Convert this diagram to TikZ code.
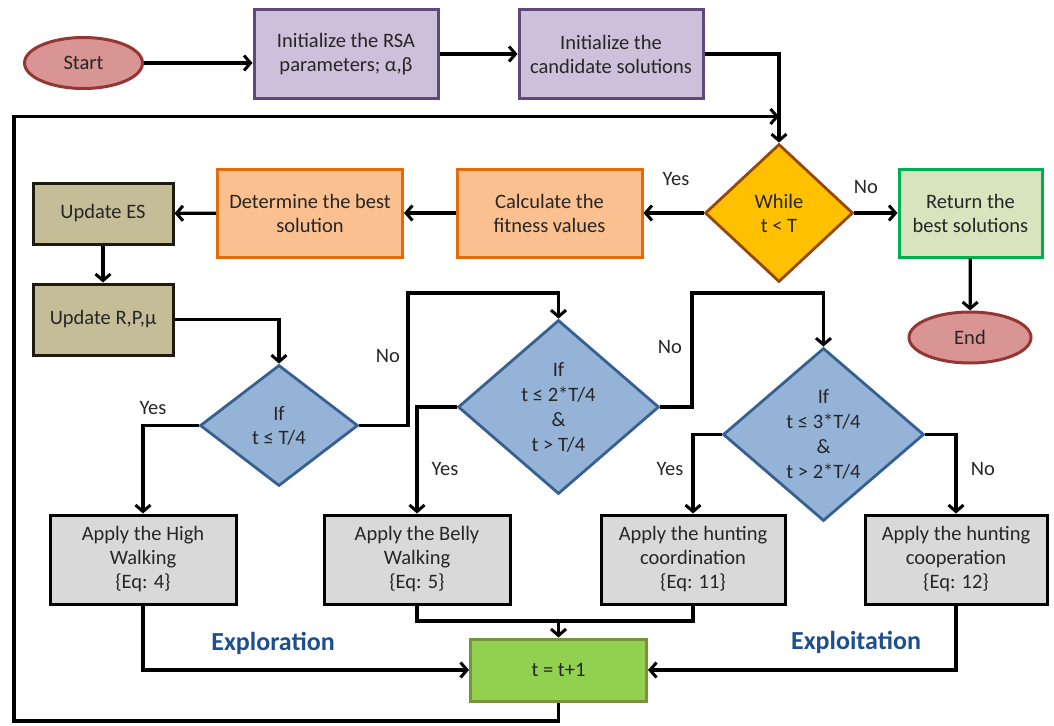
\documentclass[tikz,border=0pt]{standalone}
\usepackage{fontspec}
\setmainfont{Carlito}
\usetikzlibrary{shapes.geometric,arrows.meta}
\definecolor{startfill}{HTML}{D99594}
\definecolor{startdraw}{HTML}{943634}
\definecolor{purfill}{HTML}{CCC0DA}
\definecolor{purdraw}{HTML}{5F497A}
\definecolor{yelfill}{HTML}{FFC000}
\definecolor{yeldraw}{HTML}{974806}
\definecolor{grnfill}{HTML}{D7E4BD}
\definecolor{grndraw}{HTML}{00B050}
\definecolor{orafill}{HTML}{FAC090}
\definecolor{oradraw}{HTML}{E36C09}
\definecolor{olvfill}{HTML}{C4BD97}
\definecolor{olvdraw}{HTML}{1D1B10}
\definecolor{blufill}{HTML}{95B3D7}
\definecolor{bludraw}{HTML}{376092}
\definecolor{gryfill}{HTML}{D9D9D9}
\definecolor{limfill}{HTML}{92D050}
\definecolor{limdraw}{HTML}{77933C}
\definecolor{phase}{HTML}{1F4E8C}
\definecolor{txt}{HTML}{262626}
\begin{document}
\begin{tikzpicture}[x=1pt,y=-1pt,
  every node/.style={font=\fontsize{20.5}{24}\selectfont, text=txt, align=center, inner sep=0pt},
  box/.style={rectangle, line width=3pt, minimum width=#1},
  box/.default=184pt,
  oval/.style={ellipse, line width=3pt, draw=startdraw, fill=startfill, minimum width=118pt, minimum height=51pt},
  dia/.style={diamond, line width=2.8pt, draw=bludraw, fill=blufill},
  conn/.style={line width=3.2pt, -{Straight Barb[length=6.5pt,width=15pt,line width=3pt]}},
  plain/.style={line width=3.2pt},
  lbl/.style={font=\fontsize{20.5}{24}\selectfont},
  phaselbl/.style={font=\fontsize{26}{30}\selectfont\bfseries, text=phase}
]
\useasboundingbox (0,0) rectangle (1054,725);

% nodes
\node[oval] (start) at (83.5,63) {Start};
\node[box, draw=purdraw, fill=purfill, minimum height=88pt] (rsa) at (346,54) {Initialize the RSA\\parameters; α,β};
\node[box, draw=purdraw, fill=purfill, minimum height=88pt] (cand) at (611,54) {Initialize the\\candidate solutions};
\node[diamond, line width=2.8pt, draw=yeldraw, fill=yelfill, minimum width=148pt, minimum height=138pt] (while) at (779,213) {While\\t < T};
\node[box=143pt, draw=grndraw, fill=grnfill, minimum height=88pt] (ret) at (970.5,213) {Return the\\best solutions};
\node[oval, minimum width=122pt] (end) at (970,337.5) {End};
\node[box=185pt, draw=oradraw, fill=orafill, minimum height=88pt] (fit) at (549.5,213) {Calculate the\\fitness values};
\node[box=185pt, draw=oradraw, fill=orafill, minimum height=88pt] (best) at (310,213) {Determine the best\\solution};
\node[box=140pt, draw=olvdraw, fill=olvfill, minimum height=61pt] (es) at (103,213.5) {Update ES};
\node[box=140pt, draw=olvdraw, fill=olvfill, minimum height=71pt] (rpm) at (103,319.5) {Update R,P,μ};
\node[dia, minimum width=158pt, minimum height=121pt] (if1) at (279,425.5) {If\\t ≤ T/4};
\node[dia, minimum width=201pt, minimum height=174pt, font=\fontsize{20.5}{25}\selectfont] (if2) at (558.5,407) {If\\t ≤ 2*T/4\\\&\\t > T/4};
\node[dia, minimum width=201pt, minimum height=173pt, font=\fontsize{20.5}{25}\selectfont] (if3) at (823.5,434.5) {If\\t ≤ 3*T/4\\\&\\t > 2*T/4};
\node[box=186pt, draw=black, fill=gryfill, minimum height=89pt] (high) at (143,559.5) {Apply the High\\Walking\\\{Eq: 4\}};
\node[box=186pt, draw=black, fill=gryfill, minimum height=89pt] (belly) at (417,559.5) {Apply the Belly\\Walking\\\{Eq: 5\}};
\node[box=184pt, draw=black, fill=gryfill, minimum height=89pt] (coord) at (693,559.5) {Apply the hunting\\coordination\\\{Eq: 11\}};
\node[box=182pt, draw=black, fill=gryfill, minimum height=89pt] (coop) at (956,559.5) {Apply the hunting\\cooperation\\\{Eq: 12\}};
\node[box=176pt, draw=limdraw, fill=limfill, minimum height=62pt] (inc) at (558.5,670) {t = t+1};

% phase labels
\node[phaselbl] (explor) at (273,643) {Exploration};
\node[phaselbl] (exploit) at (856,642) {Exploitation};

% coordinates for loop
\coordinate (lb) at (14,721);
\coordinate (lt) at (14,116.5);
\coordinate (lj) at (779,116.5);

% connectors
\draw[conn] (start.east) -- (start.east -| rsa.west);
\draw[conn] (rsa) -- (cand);
\draw[conn] (cand.east) -| (while.north);
\draw[conn] (while) -- (fit);
\draw[conn] (while) -- (ret);
\draw[conn] (ret) -- (end);
\draw[conn] (fit) -- (best);
\draw[conn] (best) -- (es);
\draw[conn] (es) -- (rpm);
\draw[conn] (rpm.east) -| (if1.north);
\draw[conn] (if1.west) -| (high.north);
\draw[conn] (if1.east) -| (408,425.5) |- (558.5,293) -- (if2.north);
\draw[conn] (if2.west) -| (belly.north);
\draw[conn] (if2.east) -| (692,407) |- (823.5,293) -- (if3.north);
\draw[conn] (if3.west) -| (coord.north);
\draw[conn] (if3.east) -| (coop.north);
\draw[plain] (belly.south) |- (558.5,621);
\draw[conn] (coord.south) |- (558.5,621) -- (inc.north);
\draw[conn] (high.south) |- (inc.west);
\draw[conn] (coop.south) |- (inc.east);
\draw[conn] (inc.south) |- (lb) -- (lt) -- (lj);

% branch labels
\node[lbl] at (676,179) {Yes};
\node[lbl] at (866,187) {No};
\node[lbl] at (153,408) {Yes};
\node[lbl] at (388,356) {No};
\node[lbl] at (445,469) {Yes};
\node[lbl] at (670,347) {No};
\node[lbl] at (670,469) {Yes};
\node[lbl] at (983,469) {No};
\end{tikzpicture}
\end{document}
